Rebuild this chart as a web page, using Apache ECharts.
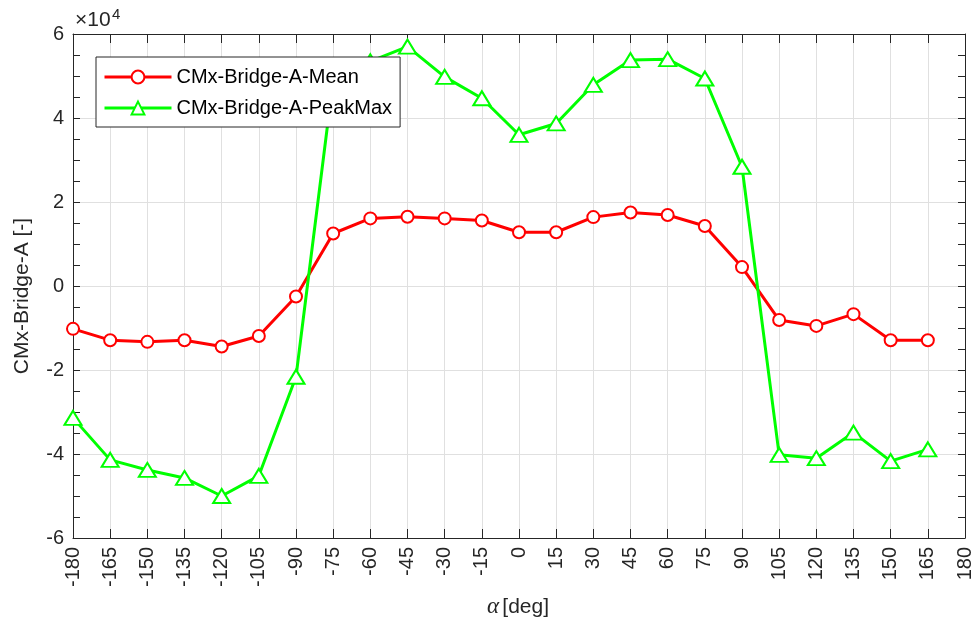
<!DOCTYPE html>
<html>
<head>
<meta charset="utf-8">
<script src="https://cdn.jsdelivr.net/npm/echarts@6/dist/echarts.min.js"></script>
<style>
  html, body { margin: 0; padding: 0; background: #ffffff; }
  #chart { width: 979px; height: 631px; }
</style>
</head>
<body>
<div id="chart"></div>
<script>
// Wind angle (deg)
const angles = [-180, -165, -150, -135, -120, -105, -90, -75, -60, -45, -30, -15,
                0, 15, 30, 45, 60, 75, 90, 105, 120, 135, 150, 165];

// Bridge A moment coefficient, mean value
const meanValues = [-10200, -12900, -13300, -12900, -14400, -11900, -2500, 12500,
                    16100, 16500, 16100, 15600, 12800, 12800, 16400, 17500,
                    16900, 14300, 4500, -8100, -9500, -6700, -12900, -12900];

// Bridge A moment coefficient, peak maximum
const peakValues = [-31400, -41400, -43800, -45700, -50000, -45200, -21600, 49000,
                    53500, 57000, 49800, 44700, 36000, 38700, 47900, 53800,
                    54000, 49400, 28400, -40200, -41000, -34900, -41700, -38900];

const seriesNames = ['CMx-Bridge-A-Mean', 'CMx-Bridge-A-PeakMax'];

const X_MIN = -180, X_MAX = 180, X_STEP = 15;
const Y_MIN = -60000, Y_MAX = 60000, Y_STEP = 20000;

const axisColor = '#262626';
const gridColor = '#e0e0e0';
const font = "'Liberation Sans', Arial, Helvetica, sans-serif";

const chart = echarts.init(document.getElementById('chart'), null, { renderer: 'canvas' });

const pair = (xs, ys) => xs.map((x, i) => [x, ys[i]]);

const baseX = {
  type: 'value', min: X_MIN, max: X_MAX, interval: X_STEP,
  axisLine: { show: true, onZero: false, lineStyle: { color: axisColor, width: 1 } },
  axisTick: { show: true, inside: true, length: 9, lineStyle: { color: axisColor } },
  splitLine: { show: false }
};
const baseY = {
  type: 'value', min: Y_MIN, max: Y_MAX, interval: Y_STEP,
  axisLine: { show: true, onZero: false, lineStyle: { color: axisColor, width: 1 } },
  axisTick: { show: true, inside: true, length: 7, lineStyle: { color: axisColor } },
  minorTick: { show: true, splitNumber: 4, length: 7, lineStyle: { color: axisColor } },
  splitLine: { show: false }
};

chart.setOption({
  animation: false,
  backgroundColor: '#ffffff',
  grid: { left: 73, right: 14, top: 34, bottom: 93, containLabel: false },
  xAxis: [
    Object.assign({}, baseX, {
      position: 'bottom',
      axisLabel: {
        show: true, rotate: 90, margin: 9, color: axisColor,
        fontFamily: font, fontSize: 20, showMinLabel: true, showMaxLabel: true
      },
      splitLine: { show: true, lineStyle: { color: gridColor, width: 1 } }
    }),
    Object.assign({}, baseX, { position: 'top', axisLabel: { show: false } })
  ],
  yAxis: [
    Object.assign({}, baseY, {
      position: 'left',
      axisLabel: {
        show: true, margin: 9, color: axisColor, fontFamily: font, fontSize: 20,
        formatter: v => String(Math.round(v / 10000))
      },
      splitLine: { show: true, lineStyle: { color: gridColor, width: 1 } }
    }),
    Object.assign({}, baseY, { position: 'right', axisLabel: { show: false } })
  ],
  legend: {
    orient: 'vertical',
    left: 96, top: 57,
    padding: [10, 8, 9, 7],
    itemGap: 11,
    itemWidth: 67, itemHeight: 16,
    backgroundColor: '#ffffff',
    borderColor: axisColor, borderWidth: 1, borderRadius: 0,
    lineStyle: { width: 3 },
    itemStyle: { borderWidth: 2.6 },
    textStyle: { color: '#000000', fontFamily: font, fontSize: 20, lineHeight: 16 },
    data: seriesNames
  },
  series: [
    {
      name: seriesNames[0], type: 'line',
      data: pair(angles, meanValues),
      symbol: 'emptyCircle', symbolSize: 12,
      lineStyle: { color: '#ff0000', width: 3 },
      itemStyle: { color: '#ff0000', borderColor: '#ff0000', borderWidth: 2.6 },
      z: 3
    },
    {
      name: seriesNames[1], type: 'line',
      data: pair(angles, peakValues),
      symbol: 'emptyTriangle', symbolSize: [17, 14],
      lineStyle: { color: '#00ff00', width: 3 },
      itemStyle: { color: '#00ff00', borderColor: '#00ff00', borderWidth: 2.6 },
      z: 3
    }
  ],
  graphic: [
    {
      type: 'text', x: 75, y: 31,
      style: {
        text: '×10', fill: axisColor, fontFamily: font, fontSize: 21,
        verticalAlign: 'bottom'
      }
    },
    {
      type: 'text', x: 112, y: 22,
      style: {
        text: '4', fill: axisColor, fontFamily: font, fontSize: 15,
        verticalAlign: 'bottom'
      }
    },
    {
      type: 'text', x: 22, y: 296, rotation: Math.PI / 2,
      style: {
        text: 'CMx-Bridge-A [-]', fill: axisColor,
        fontFamily: font, fontSize: 21, align: 'center', verticalAlign: 'middle'
      }
    },
    {
      type: 'text', x: 518, y: 607,
      style: {
        text: '{g|α} {t|[deg]}', align: 'center', verticalAlign: 'middle',
        rich: {
          g: { fontFamily: "'Liberation Serif', 'Times New Roman', serif", fontStyle: 'italic', fontSize: 23, fill: axisColor },
          t: { fontFamily: font, fontSize: 21, fill: axisColor }
        }
      }
    }
  ]
});
</script>
</body>
</html>
